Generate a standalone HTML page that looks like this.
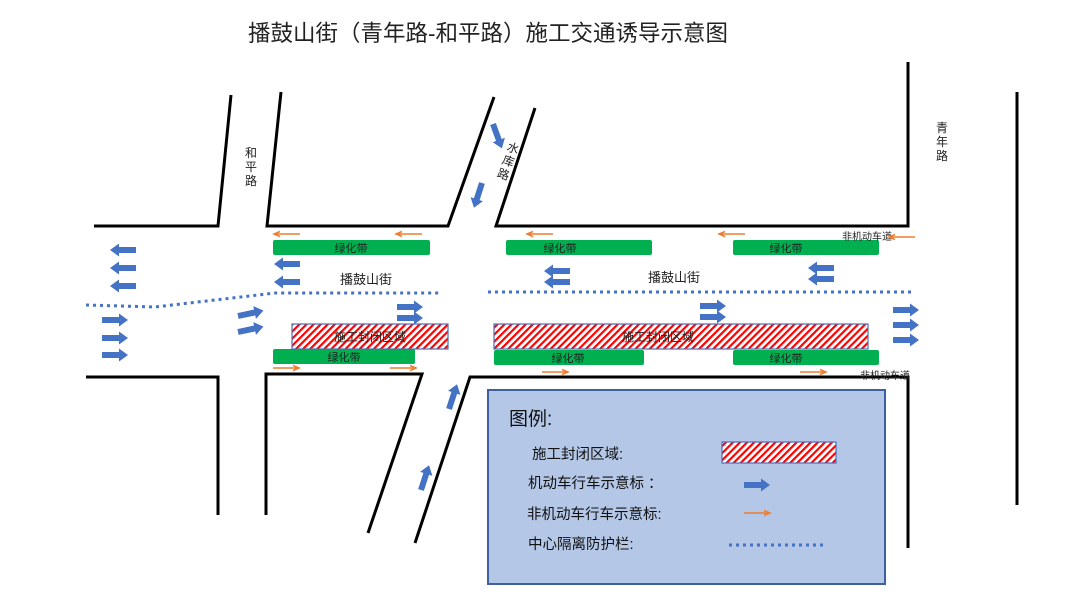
<!DOCTYPE html>
<html><head><meta charset="utf-8"><style>
html,body{margin:0;padding:0;background:#fff;}
svg{display:block;font-family:"Liberation Sans","Noto Sans CJK SC",sans-serif;}
</style></head><body>
<svg width="1080" height="604" viewBox="0 0 1080 604" xmlns="http://www.w3.org/2000/svg">
<defs>
<pattern id="h" width="5" height="5" patternUnits="userSpaceOnUse" patternTransform="rotate(45)">
<rect width="5" height="5" fill="#fff"/><rect width="2.2" height="5" fill="#f00"/></pattern>
<path id="ba" d="M0,-3 H17 V-6.5 L26,0 L17,6.5 V3 H0 Z" fill="#4472c4"/>
<path id="oa" d="M0,0 H24 M20,-2.5 L26,0 L20,2.5" stroke="#ed7d31" stroke-width="1.5" fill="none"/>
</defs>
<text x="488" y="41" font-size="22.5" text-anchor="middle" fill="#222">播鼓山街（青年路-和平路）施工交通诱导示意图</text>
<g stroke="#000" stroke-width="3" fill="none" stroke-linejoin="miter">
<path d="M94,226 H218 L231,95"/>
<path d="M281,92 L267,226 H448 L494,97"/>
<path d="M535,108 L496,226 H908 V62"/>
<path d="M86,377 H218 V515"/>
<path d="M266,515 V374 H422 L368,533"/>
<path d="M415,543 L470,377 H908 V548"/>
<path d="M1017,92 V505"/>
</g>
<g fill="#00b050">
<rect x="273" y="240" width="157" height="15" rx="2"/>
<rect x="506" y="240" width="146" height="15" rx="2"/>
<rect x="733" y="240" width="146" height="15" rx="2"/>
<rect x="273" y="349" width="142" height="15" rx="2"/>
<rect x="494" y="350" width="150" height="15" rx="2"/>
<rect x="733" y="350" width="146" height="15" rx="2"/>
</g>
<rect x="292" y="324" width="156" height="25" fill="url(#h)" stroke="#4472c4" stroke-width="1.2"/>
<rect x="494" y="324" width="374" height="25" fill="url(#h)" stroke="#4472c4" stroke-width="1.2"/>
<g font-size="11" fill="#222" text-anchor="middle">
<text x="351" y="252">绿化带</text><text x="560" y="252">绿化带</text><text x="786" y="252">绿化带</text>
<text x="344" y="361">绿化带</text><text x="568" y="362">绿化带</text><text x="786" y="362">绿化带</text>
<text x="370" y="341" font-size="12">施工封闭区域</text><text x="658" y="341" font-size="12">施工封闭区域</text>
</g>
<g stroke="#4472c4" stroke-width="3" stroke-dasharray="3,4" fill="none">
<path d="M86,305 L155,307 L275,293 L440,293"/>
<path d="M488,292 H912"/>
</g>
<g font-size="13" fill="#222">
<text x="340" y="284">播鼓山街</text><text x="648" y="282">播鼓山街</text>
<text x="842" y="240" font-size="10">非机动车道</text>
<text x="860" y="379" font-size="10">非机动车道</text>
<text x="245" y="157" font-size="12">和</text><text x="245" y="171" font-size="12">平</text><text x="245" y="185" font-size="12">路</text>
<text x="936" y="132" font-size="12">青</text><text x="936" y="146" font-size="12">年</text><text x="936" y="160" font-size="12">路</text>
<g transform="translate(506,150) rotate(20)" font-size="12"><text x="0" y="0">水</text><text x="0" y="14">库</text><text x="0" y="28">路</text></g>
</g>
<g>
<use href="#ba" transform="translate(136,250) rotate(180)"/>
<use href="#ba" transform="translate(136,268) rotate(180)"/>
<use href="#ba" transform="translate(136,286) rotate(180)"/>
<use href="#ba" transform="translate(300,264) rotate(180)"/>
<use href="#ba" transform="translate(300,282) rotate(180)"/>
<use href="#ba" transform="translate(570,271) rotate(180)"/>
<use href="#ba" transform="translate(570,282) rotate(180)"/>
<use href="#ba" transform="translate(834,268) rotate(180)"/>
<use href="#ba" transform="translate(834,279) rotate(180)"/>
<use href="#ba" transform="translate(102,320)"/>
<use href="#ba" transform="translate(102,338)"/>
<use href="#ba" transform="translate(102,355)"/>
<use href="#ba" transform="translate(238,316) rotate(-12)"/>
<use href="#ba" transform="translate(238,332) rotate(-12)"/>
<use href="#ba" transform="translate(397,307)"/>
<use href="#ba" transform="translate(397,318)"/>
<use href="#ba" transform="translate(700,306)"/>
<use href="#ba" transform="translate(700,317)"/>
<use href="#ba" transform="translate(893,310)"/>
<use href="#ba" transform="translate(893,325)"/>
<use href="#ba" transform="translate(893,340)"/>
<use href="#ba" transform="translate(493,124) rotate(70)"/>
<use href="#ba" transform="translate(482,183) rotate(108)"/>
<use href="#ba" transform="translate(449,409) rotate(-72)"/>
<use href="#ba" transform="translate(421,490) rotate(-72)"/>
</g>
<g>
<use href="#oa" transform="translate(300,234) rotate(180)"/>
<use href="#oa" transform="translate(422,234) rotate(180)"/>
<use href="#oa" transform="translate(553,234) rotate(180)"/>
<use href="#oa" transform="translate(745,234) rotate(180)"/>
<use href="#oa" transform="translate(915,237) rotate(180)"/>
<use href="#oa" transform="translate(273,368)"/>
<use href="#oa" transform="translate(390,368)"/>
<use href="#oa" transform="translate(542,372)"/>
<use href="#oa" transform="translate(800,372)"/>
</g>
<rect x="488" y="390" width="397" height="194" fill="#b4c7e7" stroke="#3f5f9f" stroke-width="2"/>
<g fill="#111">
<text x="509" y="425" font-size="19">图例:</text>
<text x="532" y="459" font-size="14.5">施工封闭区域:</text>
<text x="528" y="488" font-size="14.5">机动车行车示意标 ：</text>
<text x="527" y="519" font-size="14.5">非机动车行车示意标:</text>
<text x="528" y="549" font-size="14.5">中心隔离防护栏:</text>
</g>
<rect x="722" y="442" width="114" height="21" fill="url(#h)" stroke="#4472c4" stroke-width="1.2"/>
<use href="#ba" transform="translate(744,485)"/>
<use href="#oa" transform="translate(744,513)"/>
<path d="M729,545 H826" stroke="#4472c4" stroke-width="3" stroke-dasharray="3,4"/>
</svg>
</body></html>
